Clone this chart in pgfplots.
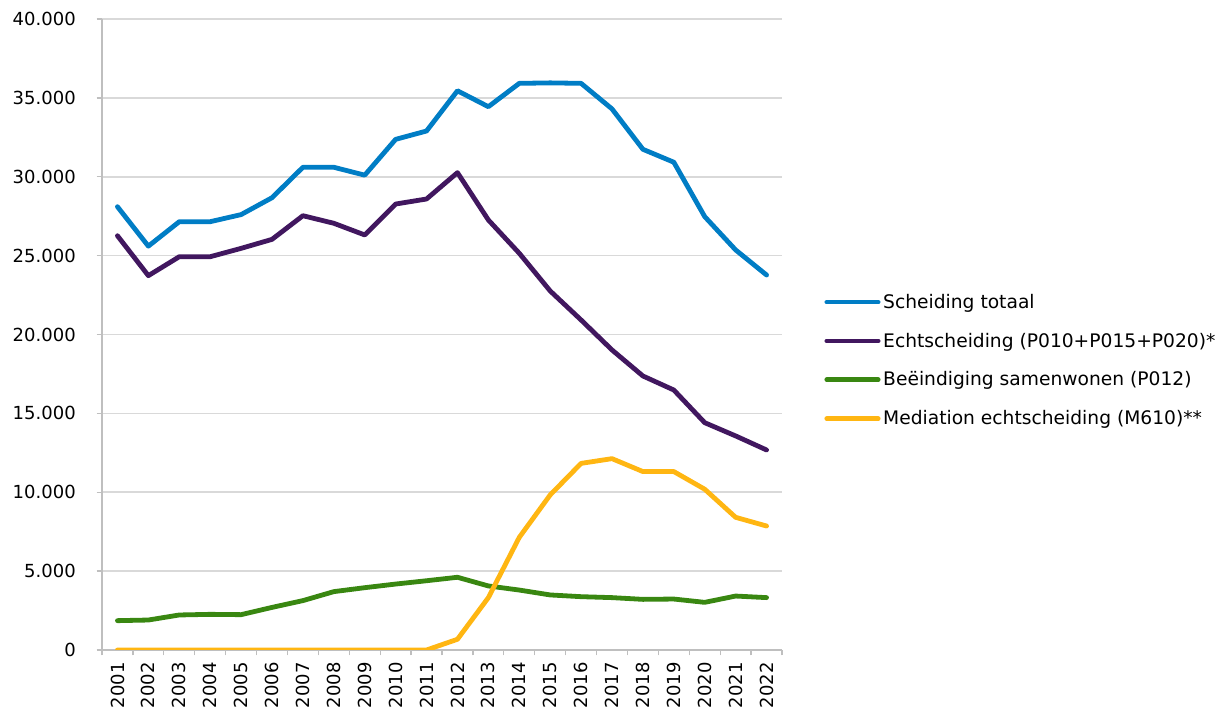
\documentclass[border=0pt]{standalone}
\usepackage{pgfplots}
\pgfplotsset{compat=1.18}
\usepackage{fontspec}
\setmainfont{DejaVu Sans}
\definecolor{cblue}{RGB}{0,125,197}
\definecolor{cpurple}{RGB}{65,23,95}
\definecolor{cgreen}{RGB}{57,135,17}
\definecolor{cyellow}{RGB}{255,182,18}
\definecolor{cgrid}{RGB}{217,217,217}
\definecolor{caxis}{RGB}{191,191,191}
\begin{document}
\begin{tikzpicture}
\begin{axis}[
  at={(0,0)}, anchor=south west,
  scale only axis,
  width=510pt, height=473.25pt,
  xmin=-0.5, xmax=21.5,
  ymin=0, ymax=40000,
  axis x line*=bottom, axis y line*=left,
  axis line style={caxis, line width=1pt},
  xtick={0,...,21},
  xticklabels={2001,2002,2003,2004,2005,2006,2007,2008,2009,2010,2011,2012,2013,2014,2015,2016,2017,2018,2019,2020,2021,2022},
  major x tick style={draw=none},
  minor xtick={-0.5,0.5,...,21.5},
  minor x tick style={caxis, line width=1pt},
  minor tick length=4pt,
  x tick label style={rotate=90, anchor=east, font=\fontsize{13.5}{15}\selectfont, inner sep=0pt},
  xticklabel shift=5pt,
  ytick={0,5000,...,40000},
  yticklabels={0,5.000,10.000,15.000,20.000,25.000,30.000,35.000,40.000},
  y tick label style={font=\fontsize{13.5}{15}\selectfont, inner sep=0pt},
  yticklabel shift=15.5pt,
  major y tick style={caxis, line width=1pt},
  major tick length=4pt,
  tick align=outside,
  ymajorgrids,
  grid style={cgrid, line width=1.2pt},
  every axis plot/.append style={line width=3.6pt, line cap=round, line join=round},
  legend style={draw=none, at={(1.062,0.459)}, anchor=west,
    font=\fontsize{14}{16}\selectfont, row sep=13pt, inner sep=0pt,
    /tikz/every even column/.append style={column sep=0pt}},
  legend cell align=left,
  legend image code/.code={\draw[#1, line cap=round] (0pt,0pt) -- (38.5pt,0pt);},
]
\addplot[cblue] coordinates {(0,28100)(1,25600)(2,27150)(3,27150)(4,27600)(5,28670)(6,30600)(7,30600)(8,30100)(9,32370)(10,32900)(11,35450)(12,34440)(13,35920)(14,35950)(15,35920)(16,34300)(17,31740)(18,30920)(19,27470)(20,25360)(21,23770)};
\addlegendentry{Scheiding totaal}
\addplot[cpurple] coordinates {(0,26260)(1,23730)(2,24930)(3,24930)(4,25460)(5,26030)(6,27530)(7,27050)(8,26310)(9,28270)(10,28590)(11,30260)(12,27260)(13,25150)(14,22760)(15,20920)(16,19020)(17,17370)(18,16480)(19,14410)(20,13570)(21,12680)};
\addlegendentry{Echtscheiding (P010+P015+P020)*}
\addplot[cgreen] coordinates {(0,1860)(1,1900)(2,2220)(3,2260)(4,2240)(5,2700)(6,3130)(7,3700)(8,3950)(9,4180)(10,4390)(11,4610)(12,4060)(13,3800)(14,3490)(15,3380)(16,3320)(17,3210)(18,3230)(19,3020)(20,3420)(21,3320)};
\addlegendentry{Beëindiging samenwonen (P012)}
\addplot[cyellow] coordinates {(0,0)(1,0)(2,0)(3,0)(4,0)(5,0)(6,0)(7,0)(8,0)(9,0)(10,0)(11,680)(12,3320)(13,7140)(14,9830)(15,11830)(16,12130)(17,11310)(18,11310)(19,10190)(20,8410)(21,7860)};
\addlegendentry{Mediation echtscheiding (M610)**}
\end{axis}
\pgfresetboundingbox
\path[use as bounding box] (-76.5pt,-47pt) rectangle (840.75pt,487.5pt);
\end{tikzpicture}
\end{document}
